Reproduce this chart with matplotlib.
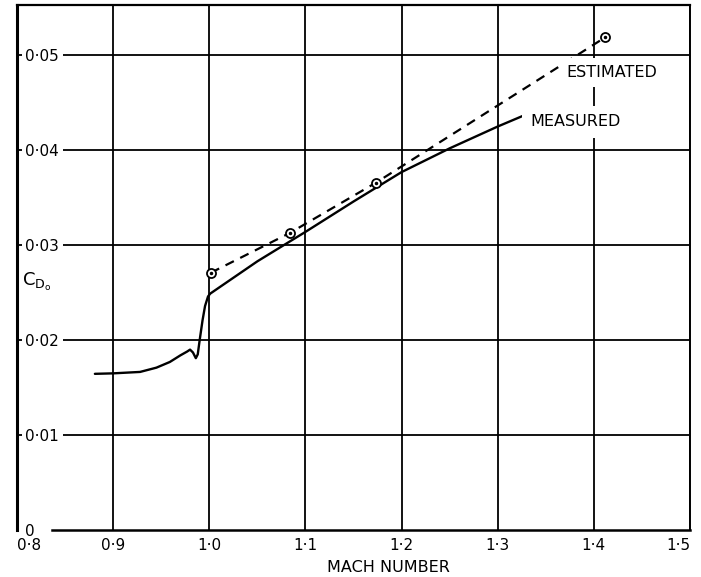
import matplotlib
matplotlib.use("Agg")
import matplotlib.pyplot as plt

# ---- data ----
measured_mach = [0.881, 0.900, 0.928, 0.945, 0.959, 0.970, 0.977, 0.980, 0.983,
                 0.986, 0.988, 0.990, 0.993, 0.9956, 0.9987, 1.001, 1.05, 1.10,
                 1.15, 1.20, 1.25, 1.30, 1.328]
measured_cd = [0.01645, 0.01650, 0.01665, 0.0171, 0.0177, 0.0184, 0.0188, 0.0190,
               0.0187, 0.0181, 0.0185, 0.0200, 0.0221, 0.0236, 0.0246, 0.0249,
               0.0283, 0.0314, 0.0346, 0.0377, 0.0402, 0.0425, 0.0437]

estimated_mach = [1.0016, 1.084, 1.1736, 1.4119]
estimated_cd = [0.0271, 0.0313, 0.0366, 0.0519]

xticks = [0.8, 0.9, 1.0, 1.1, 1.2, 1.3, 1.4, 1.5]
xtick_labels = ["0·8", "0·9", "1·0", "1·1", "1·2", "1·3", "1·4", "1·5"]
yticks = [0.0, 0.01, 0.02, 0.03, 0.04, 0.05]
ytick_labels = ["0", "0·01", "0·02", "0·03", "0·04", "0·05"]

plt.rcParams["font.family"] = ["DejaVu Sans"]
plt.rcParams["mathtext.default"] = "regular"

fig = plt.figure(figsize=(7.01, 5.77), dpi=100)
ax = fig.add_axes([17 / 701, 1 - 530 / 577, (690 - 17) / 701, (530 - 5) / 577])
ax.set_xlim(0.8, 1.5)
ax.set_ylim(0.0, 0.0553)

ax.set_xticks(xticks, labels=xtick_labels)
ax.set_yticks(yticks, labels=ytick_labels)
ax.grid(True, color="black", linewidth=1.3)
ax.set_axisbelow(True)

ax.tick_params(axis="x", length=0, pad=6, labelsize=11)
ax.tick_params(axis="y", length=0, pad=-6, labelsize=11)
ylabs = ax.get_yticklabels()
for lab in ylabs:
    lab.set_horizontalalignment("left")
for lab in ylabs[1:]:
    lab.set_bbox(dict(facecolor="white", edgecolor="none", pad=2.5))
ylabs[0].set_verticalalignment("center_baseline")
xl = ax.get_xticklabels()
xl[0].set_horizontalalignment("left")
xl[-1].set_horizontalalignment("right")
ax.yaxis.get_major_ticks()[0].gridline.set_visible(False)

for side, lw in [("left", 2.2), ("top", 1.6), ("right", 1.4), ("bottom", 1.8)]:
    ax.spines[side].set_linewidth(lw)
    ax.spines[side].set_color("black")
ax.spines["bottom"].set_bounds(0.8364, 1.5)

ax.plot(measured_mach, measured_cd, color="black", linewidth=1.7,
        solid_capstyle="round", zorder=3)
ax.plot(estimated_mach, estimated_cd, color="black", linewidth=1.6,
        linestyle=(0, (4.2, 3.2)), zorder=3)
ax.plot(estimated_mach, estimated_cd, linestyle="none", marker="o",
        markersize=6.5, markerfacecolor="white", markeredgecolor="black",
        markeredgewidth=1.3, zorder=4)
ax.plot(estimated_mach, estimated_cd, linestyle="none", marker="o",
        markersize=1.5, color="black", zorder=5)

ax.text(1.3713, 0.0482, "ESTIMATED", fontsize=11.5, ha="left", va="center",
        bbox=dict(facecolor="white", edgecolor="none", pad=5), zorder=3)
ax.text(1.3338, 0.0430, "MEASURED", fontsize=11.5, ha="left", va="center",
        bbox=dict(facecolor="white", edgecolor="none", pad=6), zorder=3)
ax.text(0.805, 0.0261, "$C_{D_o}$", fontsize=13, ha="left", va="center",
        bbox=dict(facecolor="white", edgecolor="none", pad=1), zorder=3)

fig.text(388 / 701, 1 - 568 / 577, "MACH NUMBER", fontsize=11.5,
         ha="center", va="center")

fig.savefig("out.png", dpi=100, facecolor="white")
